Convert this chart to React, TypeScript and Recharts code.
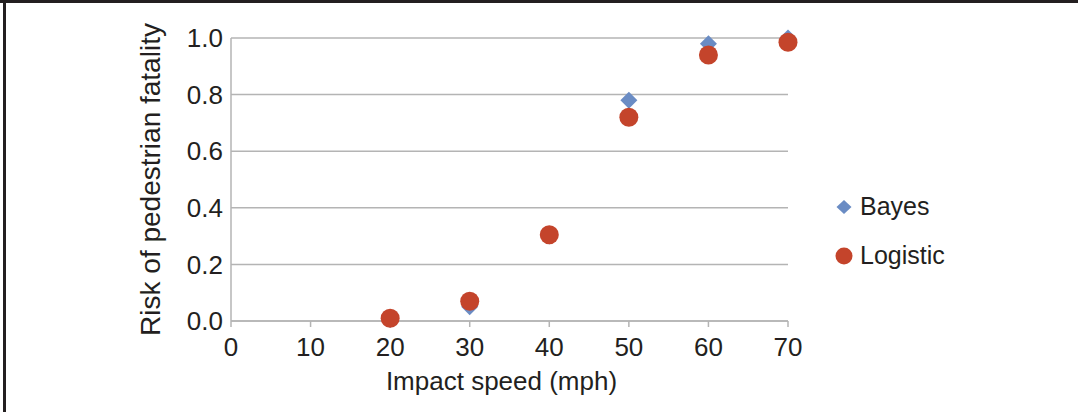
import React from "react";
import { CartesianGrid, Label, Legend, Scatter, ScatterChart, XAxis, YAxis } from "recharts";

const speeds = [20, 30, 40, 50, 60, 70];
const bayes = [0.005, 0.05, 0.3, 0.78, 0.98, 1.0];
const logistic = [0.01, 0.07, 0.305, 0.72, 0.94, 0.985];

const xTicks = [0, 10, 20, 30, 40, 50, 60, 70];
const yTicks = [0, 0.2, 0.4, 0.6, 0.8, 1.0];

const FONT = "'Liberation Sans', Arial, Helvetica, sans-serif";
const INK = "#231f20";
const GRID = "#b4b4b4";
const BLUE = "#6a8cc4";
const RED = "#c4442b";

const bayesData = speeds.map((x, i) => ({ x, y: bayes[i] }));
const logisticData = speeds.map((x, i) => ({ x, y: logistic[i] }));

function DiamondDot(props: any) {
  const { cx, cy } = props;
  const r = 8.5;
  return <path d={`M${cx},${cy - r}L${cx + r},${cy}L${cx},${cy + r}L${cx - r},${cy}Z`} fill={BLUE} />;
}

function CircleDot(props: any) {
  const { cx, cy } = props;
  return <circle cx={cx} cy={cy} r={9.5} fill={RED} />;
}

function LegendBox() {
  const rows = [
    { name: "Bayes", icon: <path d="M9,2L16.5,9L9,16L1.5,9Z" fill={BLUE} /> },
    { name: "Logistic", icon: <circle cx={9} cy={9} r={8.5} fill={RED} /> },
  ];
  return (
    <div style={{ fontFamily: FONT, fontSize: 25, color: INK }}>
      {rows.map((r) => (
        <div key={r.name} style={{ display: "flex", alignItems: "center", height: 49 }}>
          <svg width={18} height={18} style={{ marginRight: 7 }}>
            {r.icon}
          </svg>
          <span>{r.name}</span>
        </div>
      ))}
    </div>
  );
}

export default function App() {
  return (
    <div style={{ position: "absolute", left: 0, top: 0, width: 1078, height: 412, background: "#fff" }}>
      <div style={{ position: "absolute", left: 0, top: 0, width: 1078, height: 3, background: INK }} />
      <div style={{ position: "absolute", left: 3, top: 0, width: 3, height: 412, background: INK }} />
      <ScatterChart width={1078} height={412} margin={{ top: 38, right: 290, bottom: 31, left: 0 }}>
        <CartesianGrid vertical={false} stroke={GRID} strokeWidth={1.5} />
        <XAxis
          type="number"
          dataKey="x"
          domain={[0, 70]}
          ticks={xTicks}
          height={60}
          stroke={GRID}
          strokeWidth={1.5}
          tickSize={6}
          tickMargin={11}
          tick={{ fill: INK, fontSize: 26, fontFamily: FONT }}
        >
          <Label
            content={({ viewBox }: any) => (
              <text
                x={viewBox.x + viewBox.width / 2 - 8}
                y={viewBox.y + 69}
                textAnchor="middle"
                fill={INK}
                fontSize={26}
                fontFamily={FONT}
              >
                Impact speed (mph)
              </text>
            )}
          />
        </XAxis>
        <YAxis
          type="number"
          dataKey="y"
          domain={[0, 1]}
          ticks={yTicks}
          width={231}
          stroke={GRID}
          strokeWidth={1.5}
          tickLine={false}
          tickSize={0}
          tickMargin={8}
          tickFormatter={(v: number) => v.toFixed(1)}
          tick={{ fill: INK, fontSize: 26, fontFamily: FONT }}
        >
          <Label
            content={({ viewBox }: any) => {
              const cx = viewBox.x + 160;
              const cy = viewBox.y + viewBox.height / 2;
              return (
                <text
                  x={cx}
                  y={cy}
                  transform={`rotate(-90 ${cx} ${cy})`}
                  textAnchor="middle"
                  fill={INK}
                  fontSize={28}
                  fontFamily={FONT}
                >
                  Risk of pedestrian fatality
                </text>
              );
            }}
          />
        </YAxis>
        <Legend
          layout="vertical"
          align="center"
          verticalAlign="middle"
          content={() => <LegendBox />}
          wrapperStyle={{ left: 835, top: 182, width: 200, height: 98 }}
        />
        <Scatter name="Bayes" data={bayesData} shape={DiamondDot} isAnimationActive={false} />
        <Scatter name="Logistic" data={logisticData} shape={CircleDot} isAnimationActive={false} />
      </ScatterChart>
    </div>
  );
}
